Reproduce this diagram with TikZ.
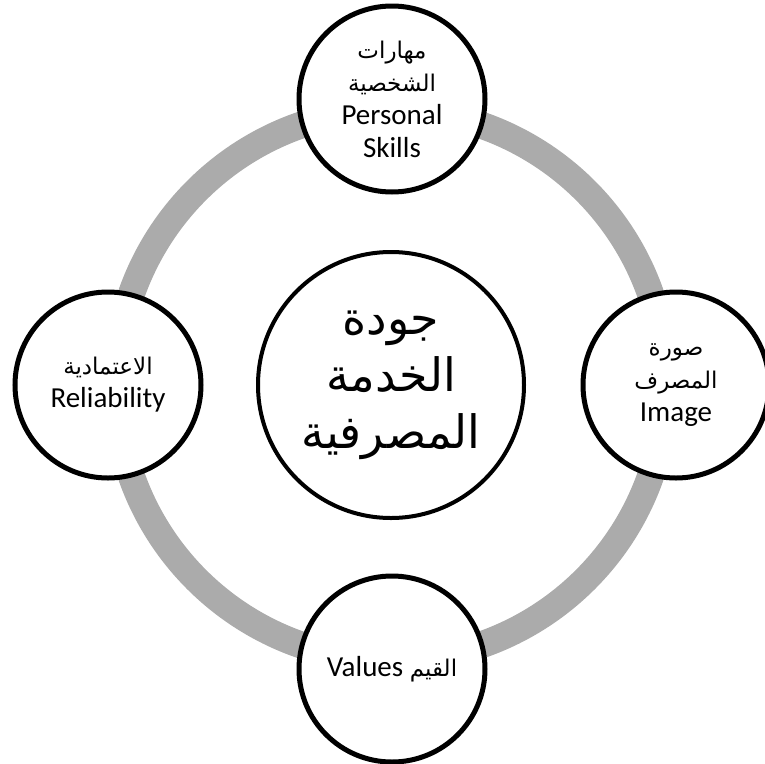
\documentclass[tikz,border=0pt]{standalone}
\usepackage{fontspec}
\setmainfont{Carlito}
\newfontfamily\arfont[Script=Arabic]{DejaVu Sans}
\TeXXeTstate=1
\definecolor{ringgray}{RGB}{171,171,171}
\newcommand{\arl}[1]{{\arfont\fontsize{23}{33}\selectfont\beginR #1\endR}}
\begin{document}
\begin{tikzpicture}[x=1pt,y=-1pt,
  sat/.style={circle,draw=black,line width=5pt,fill=white,minimum size=186pt,inner sep=0pt,align=center,font=\fontsize{29}{33}\selectfont},
  hub/.style={circle,draw=black,line width=4pt,fill=white,minimum size=266pt,inner sep=0pt,align=center,font=\arfont\fontsize{46}{57}\selectfont},
  ring/.style={draw=ringgray,line width=27pt}]
\useasboundingbox (0,0) rectangle (764,764);
\coordinate (c) at (391,385);
\draw[ring] (c) circle (275);
\node[hub] (hub) at (c) {\beginR جودة\endR\\\beginR الخدمة\endR\\\beginR المصرفية\endR};
\node[sat] (top) at (392,99) {\arl{مهارات}\\\arl{الشخصية}\\Personal\\Skills};
\node[sat] (right) at (676,385) {\arl{صورة}\\\arl{المصرف}\\Image};
\node[sat] (left) at (108,385) {\arl{الاعتمادية}\\Reliability};
\node[sat] (bottom) at (392,669) {Values \arl{القيم}};
\end{tikzpicture}
\end{document}
